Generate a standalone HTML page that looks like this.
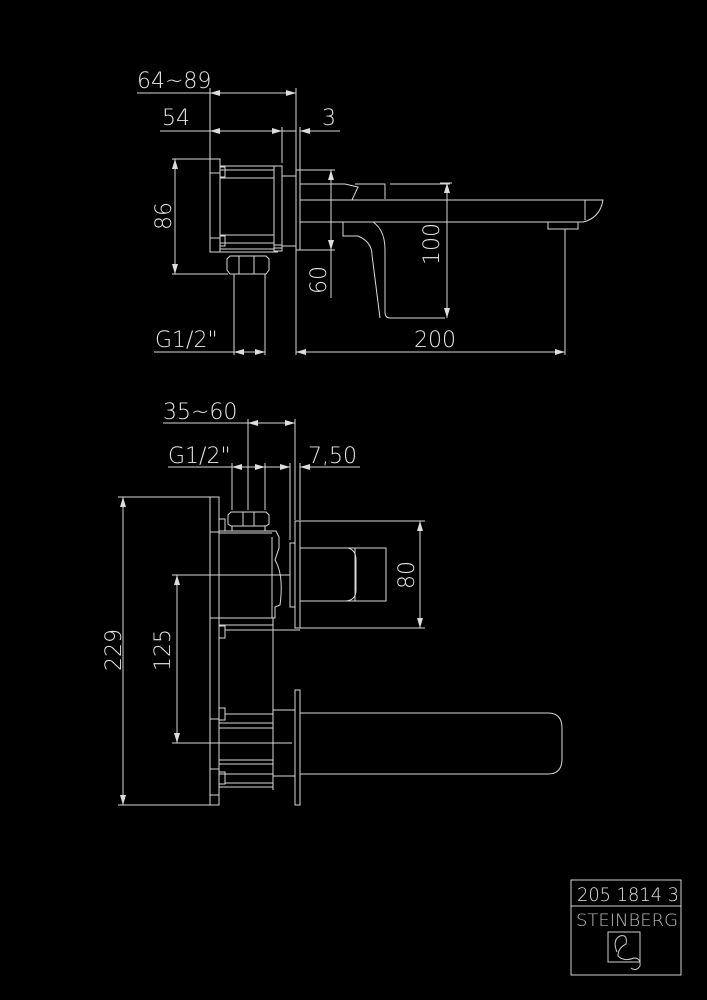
<!DOCTYPE html>
<html><head><meta charset="utf-8"><style>
html,body{margin:0;padding:0;background:#000;}
svg{display:block}
text{font-family:"DejaVu Sans","Liberation Sans",sans-serif;fill:#e6e6e6;font-weight:200}
</style></head><body>
<svg width="707" height="1000" viewBox="0 0 707 1000" xmlns="http://www.w3.org/2000/svg">
<defs>
<marker id="a" viewBox="0 0 10 6" refX="10" refY="3" markerWidth="10" markerHeight="6" markerUnits="userSpaceOnUse" orient="auto-start-reverse"><path d="M0,0 L10,3 L0,6 z" fill="#ddd"/></marker>
</defs>
<g stroke="#d8d8d8" stroke-width="1" fill="none">
<line x1="137" y1="93" x2="210" y2="93"/>
<line x1="210" y1="93" x2="296" y2="93" marker-start="url(#a)" marker-end="url(#a)"/>
<line x1="210" y1="88" x2="210" y2="160"/>
<line x1="296" y1="88" x2="296" y2="170"/>
<line x1="160" y1="131" x2="210" y2="131"/>
<line x1="210" y1="131" x2="282" y2="131" marker-start="url(#a)" marker-end="url(#a)"/>
<line x1="282" y1="131" x2="296" y2="131"/>
<line x1="300" y1="131" x2="340" y2="131" marker-start="url(#a)"/>
<line x1="282" y1="127" x2="282" y2="163"/>
<line x1="300" y1="127" x2="300" y2="170"/>
<line x1="175" y1="159" x2="175" y2="274" marker-start="url(#a)" marker-end="url(#a)"/>
<line x1="172" y1="159" x2="210" y2="159"/>
<line x1="172" y1="274" x2="228" y2="274"/>
<rect x="210" y="159" width="10" height="93"/>
<line x1="210" y1="173" x2="220" y2="173"/><line x1="210" y1="238" x2="220" y2="238"/>
<rect x="220" y="166" width="54" height="83"/>
<line x1="220" y1="170" x2="274" y2="170"/><line x1="220" y1="178" x2="274" y2="178"/>
<line x1="220" y1="235" x2="274" y2="235"/><line x1="220" y1="243" x2="274" y2="243"/>
<rect x="220" y="167" width="5" height="10"/><rect x="220" y="236" width="5" height="10"/>
<rect x="274" y="166" width="8" height="82"/>
<rect x="282" y="176" width="14" height="70"/>
<rect x="296" y="170" width="4" height="80"/>
<rect x="274" y="245" width="8" height="6"/>
<line x1="220" y1="252" x2="278" y2="252"/>
<path d="M230,256 L266,256 L269,259 L269,270 L266,274 L230,274 L227,270 L227,259 Z"/>
<line x1="239" y1="256" x2="239" y2="274"/><line x1="254" y1="256" x2="254" y2="274"/>
<line x1="234" y1="274" x2="234" y2="355"/><line x1="265" y1="274" x2="265" y2="355"/>
<path d="M300,200 L603,200 Q600,218 583,222 L300,222"/>
<line x1="300" y1="184" x2="345" y2="184"/>
<path d="M345,184 L358,187 L352,200"/>
<path d="M355,184 L385,184 L385,199"/>
<line x1="390" y1="184" x2="450" y2="184"/>
<line x1="585" y1="200" x2="585" y2="220"/>
<rect x="548" y="222" width="30" height="7"/>
<line x1="300" y1="250" x2="335" y2="250"/>
<line x1="300" y1="170" x2="335" y2="170"/>
<path d="M343,222 L343,236 L358,236 Q372,242 372,255"/>
<path d="M373,222 Q385,230 385,250 L385,312 Q385,318 390,318 L445,318"/>
<path d="M372,255 L380,318"/>
<line x1="331" y1="170" x2="331" y2="250" marker-start="url(#a)" marker-end="url(#a)"/>
<line x1="331" y1="250" x2="331" y2="298"/>
<line x1="447" y1="183" x2="447" y2="318" marker-start="url(#a)" marker-end="url(#a)"/>
<line x1="440" y1="183" x2="452" y2="183"/>
<line x1="296" y1="352" x2="565" y2="352" marker-start="url(#a)" marker-end="url(#a)"/>
<line x1="296" y1="250" x2="296" y2="355"/>
<line x1="565" y1="229" x2="565" y2="355"/>
<line x1="154" y1="352" x2="234" y2="352"/>
<line x1="234" y1="352" x2="265" y2="352" marker-start="url(#a)" marker-end="url(#a)"/>

<line x1="163" y1="423" x2="248" y2="423"/>
<line x1="248" y1="423" x2="295" y2="423" marker-start="url(#a)" marker-end="url(#a)"/>
<line x1="248" y1="419" x2="248" y2="510"/>
<line x1="295" y1="419" x2="295" y2="520"/>
<line x1="168" y1="467" x2="232" y2="467"/>
<line x1="232" y1="467" x2="265" y2="467" marker-start="url(#a)" marker-end="url(#a)"/>
<line x1="265" y1="467" x2="290" y2="467" marker-end="url(#a)"/>
<line x1="300" y1="467" x2="360" y2="467" marker-start="url(#a)"/>
<line x1="232" y1="463" x2="232" y2="510"/>
<line x1="265" y1="463" x2="265" y2="510"/>
<line x1="290" y1="463" x2="290" y2="540"/>
<line x1="300" y1="463" x2="300" y2="520"/>
<line x1="123" y1="497" x2="123" y2="805" marker-start="url(#a)" marker-end="url(#a)"/>
<line x1="118" y1="497" x2="210" y2="497"/>
<line x1="118" y1="805" x2="210" y2="805"/>
<rect x="210" y="497" width="9" height="308"/>
<line x1="210" y1="532" x2="219" y2="532"/><line x1="210" y1="618" x2="219" y2="618"/>
<line x1="210" y1="719" x2="219" y2="719"/><line x1="210" y1="769" x2="219" y2="769"/><line x1="210" y1="795" x2="219" y2="795"/>
<rect x="219" y="519" width="6" height="12"/><rect x="219" y="626" width="6" height="12"/>
<rect x="219" y="708" width="6" height="12"/><rect x="219" y="772" width="6" height="12"/>
<path d="M231,512 L266,512 L269,515 L269,524 L266,526 L231,526 L228,524 L228,515 Z"/>
<line x1="243" y1="512" x2="243" y2="526"/><line x1="254" y1="512" x2="254" y2="526"/>
<line x1="232" y1="526" x2="232" y2="531"/><line x1="265" y1="526" x2="265" y2="531"/>
<path d="M219,531 L276,531 L279,537 L279,548 L275,560 Q284,575 280,605 L275,607 L275,618 L219,618"/>
<line x1="219" y1="533" x2="272" y2="533"/>
<line x1="272" y1="537" x2="272" y2="618"/>
<line x1="219" y1="618" x2="219" y2="805"/>
<line x1="273" y1="618" x2="273" y2="790"/>
<line x1="219" y1="625" x2="273" y2="625"/><line x1="225" y1="630" x2="300" y2="630"/>
<line x1="225" y1="714" x2="273" y2="714"/>
<line x1="219" y1="723" x2="273" y2="723"/><line x1="219" y1="728" x2="273" y2="728"/>
<line x1="219" y1="760" x2="273" y2="760"/><line x1="219" y1="764" x2="273" y2="764"/>
<line x1="219" y1="774" x2="273" y2="774"/><line x1="225" y1="783" x2="273" y2="783"/><line x1="219" y1="787" x2="273" y2="787"/>
<rect x="290" y="543" width="5" height="64"/>
<rect x="295" y="521" width="5" height="107"/>
<rect x="300" y="548" width="86" height="53"/>
<path d="M343,548 L348,548 Q356,550 356,560 L356,590 Q356,600 346,601 L343,601"/>
<line x1="355" y1="548" x2="355" y2="601"/>
<line x1="420" y1="521" x2="420" y2="628" marker-start="url(#a)" marker-end="url(#a)"/>
<line x1="300" y1="521" x2="425" y2="521"/>
<line x1="300" y1="628" x2="425" y2="628"/>
<line x1="177" y1="575" x2="177" y2="743" marker-start="url(#a)" marker-end="url(#a)"/>
<line x1="172" y1="575" x2="290" y2="575"/>
<line x1="172" y1="743" x2="292" y2="743"/>
<rect x="295" y="690" width="5" height="115"/>
<rect x="273" y="710" width="22" height="66"/>
<path d="M300,713 L548,713 Q562,713 562,728 L562,759 Q562,774 548,774 L300,774"/>
</g>

<g font-size="22">
<text x="137" y="88">64~89</text>
<text x="162" y="125">54</text>
<text x="322" y="125">3</text>
<text x="155" y="347">G1/2"</text>
<text x="414" y="347">200</text>
<text x="163" y="419">35~60</text>
<text x="168" y="463">G1/2"</text>
<text x="308" y="463">7,50</text>
<text transform="translate(171,216) rotate(-90)" text-anchor="middle">86</text>
<text transform="translate(326,280) rotate(-90)" text-anchor="middle">60</text>
<text transform="translate(439,244) rotate(-90)" text-anchor="middle">100</text>
<text transform="translate(414,575) rotate(-90)" text-anchor="middle">80</text>
<text transform="translate(170,650) rotate(-90)" text-anchor="middle">125</text>
<text transform="translate(121,650) rotate(-90)" text-anchor="middle">229</text>
</g>

<g stroke="#cfcfcf" fill="none" stroke-width="1">
<rect x="571" y="880" width="110" height="95"/>
<line x1="571" y1="906" x2="681" y2="906"/>
<rect x="608" y="932" width="32" height="30"/>
<path d="M617,952 Q612,940 620,936 Q628,934 626,944 Q618,948 618,956 Q624,962 634,958 Q641,958 640,966 Q636,972 631,968"/>
</g>
<text x="577" y="901" font-size="19" textLength="102" lengthAdjust="spacingAndGlyphs" style="fill:#e0e0e0">205 1814 3</text>
<text x="576" y="926" font-size="17" textLength="102" lengthAdjust="spacingAndGlyphs" style="fill:#bbb">STEINBERG</text>
</svg>
</body></html>
